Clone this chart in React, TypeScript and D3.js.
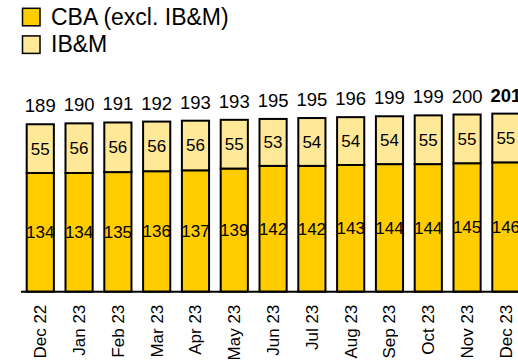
import React from "react";
import * as d3 from "d3";

const categories = ["Dec 22","Jan 23","Feb 23","Mar 23","Apr 23","May 23","Jun 23","Jul 23","Aug 23","Sep 23","Oct 23","Nov 23","Dec 23"];
const cbaExcl = [134,134,135,136,137,139,142,142,143,144,144,145,146];
const ibm = [55,56,56,56,56,55,53,54,54,54,55,55,55];
const totals = [189,190,191,192,193,193,195,195,196,199,199,200,201];
const seriesNames = ["CBA (excl. IB&M)", "IB&M"];
const colors = ["#FFCC00", "#FFE999"];

export default function App() {
  const W = 518, H = 364;
  const baseY = 291.7;
  const x = d3.scaleBand<string>().domain(categories).range([26.7, 26.7 + 38.8 * 12.7]).paddingInner(0.3).paddingOuter(0);
  const y = d3.scaleLinear().domain([0, 201]).range([baseY, baseY - 201 * 0.886]);
  const font = "Arial, 'Liberation Sans', sans-serif";
  const bw = x.bandwidth();
  return (
    <svg width={W} height={H} style={{ position: "absolute", left: 0, top: 0 }} fontFamily={font}>
      {seriesNames.map((n, i) => (
        <g key={n}>
          <rect x={22.5} y={8.3 + i * 27.6} width={17.5} height={17.5} fill={colors[i]} stroke="#000" strokeWidth={1.5} />
          <text x={51} y={24.5 + i * 27.6} fontSize={23} fill="#000">{n}</text>
        </g>
      ))}
      {categories.map((c, i) => {
        const x0 = x(c)!;
        const cx = x0 + bw / 2;
        const yMid = y(cbaExcl[i]);
        const yTop = y(cbaExcl[i] + ibm[i]);
        return (
          <g key={c}>
            <rect x={x0} y={yMid} width={bw} height={baseY - yMid} fill={colors[0]} stroke="#000" strokeWidth={2} />
            <rect x={x0} y={yTop} width={bw} height={yMid - yTop} fill={colors[1]} stroke="#000" strokeWidth={2} />
            <text x={cx} y={(yMid + baseY) / 2} dy="0.35em" textAnchor="middle" fontSize={17}>{cbaExcl[i]}</text>
            <text x={cx} y={(yMid + yTop) / 2} dy="0.35em" textAnchor="middle" fontSize={17}>{ibm[i]}</text>
            <text x={cx} y={yTop - 12} textAnchor="middle" fontSize={18.5} fontWeight={i === categories.length - 1 ? "bold" : "normal"}>{totals[i]}</text>
            <text transform={`translate(${cx + 6},${baseY + 13}) rotate(-90)`} textAnchor="end" fontSize={17}>{c}</text>
          </g>
        );
      })}
      <line x1={21} x2={W} y1={baseY} y2={baseY} stroke="#000" strokeWidth={2} />
    </svg>
  );
}
